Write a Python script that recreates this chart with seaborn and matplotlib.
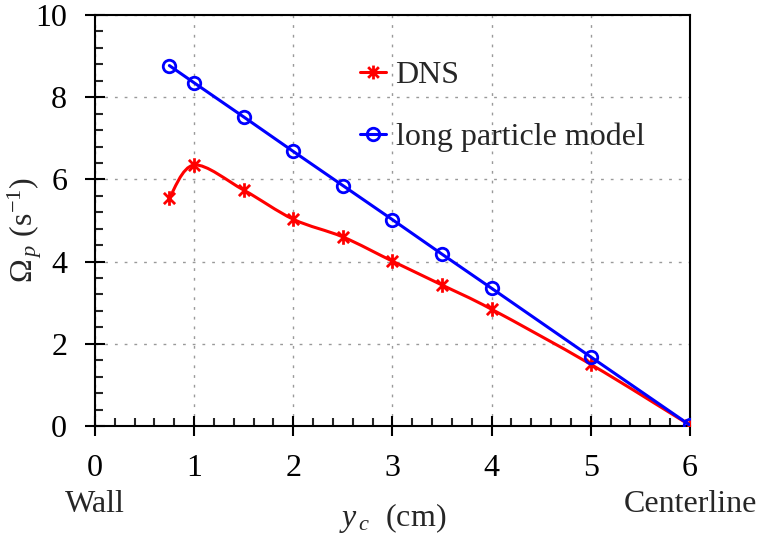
"""
Particle angular velocity vs. distance from wall: DNS vs long particle model.
"""
import numpy as np
import pandas as pd
import matplotlib
matplotlib.use('Agg')
import matplotlib.pyplot as plt
from matplotlib.path import Path
from matplotlib.patches import PathPatch
from matplotlib.lines import Line2D
from matplotlib.ticker import MultipleLocator
import seaborn as sns

# values
dns_x = [0.75, 1.0, 1.5, 2.0, 2.5, 3.0, 3.5, 4.0, 5.0, 6.0]
dns_y = [5.55, 6.35, 5.74, 5.03, 4.60, 4.01, 3.43, 2.84, 1.50, 0.02]
model_x = [0.75, 1.0, 1.5, 2.0, 2.5, 3.0, 3.5, 4.0, 5.0, 6.0]
model_y = [8.77, 8.35, 7.52, 6.68, 5.85, 5.02, 4.18, 3.35, 1.68, 0.02]
x_ticks = [0, 1, 2, 3, 4, 5, 6]
y_ticks = [0, 2, 4, 6, 8, 10]

FS = 23

sns.set_theme(style='ticks')
plt.rcParams['font.family'] = ['Liberation Serif', 'DejaVu Serif']
plt.rcParams['mathtext.fontset'] = 'custom'
plt.rcParams['mathtext.rm'] = 'Liberation Serif'
plt.rcParams['mathtext.it'] = 'Liberation Serif:italic'

# Excel-style asterisk: an X with a vertical bar
star = Path([(-1, -1), (1, 1), (-1, 1), (1, -1), (0, -1.3), (0, 1.3)],
            [Path.MOVETO, Path.LINETO, Path.MOVETO, Path.LINETO, Path.MOVETO, Path.LINETO])


def smooth_path(xs, ys):
    # Bezier curve through points (like a spreadsheet "smoothed line")
    p = np.column_stack([xs, ys]).astype(float)
    n = len(p)
    verts = [p[0]]
    codes = [Path.MOVETO]
    for i in range(n - 1):
        prev = p[i - 1] if i > 0 else p[i]
        nxt = p[i + 2] if i + 2 < n else p[i + 1]
        c1 = p[i] + (p[i + 1] - prev) / 6
        c2 = p[i + 1] - (nxt - p[i]) / 6
        verts += [c1, c2, p[i + 1]]
        codes += [Path.CURVE4] * 3
    return Path(verts, codes)


dns = pd.DataFrame({'x': dns_x, 'y': dns_y})
model = pd.DataFrame({'x': model_x, 'y': model_y})

fig = plt.figure(figsize=(7.63, 5.36), dpi=100)
ax = fig.add_axes([0.1245, 0.2052, 0.7798, 0.7668])

ax.add_patch(PathPatch(smooth_path(dns_x, dns_y), fill=False, edgecolor='red',
                       lw=2.2, zorder=3))
sns.scatterplot(data=dns, x='x', y='y', ax=ax, marker=star, s=110, color='red',
                linewidth=2.0, edgecolor='red', zorder=4, legend=False)
sns.lineplot(data=model, x='x', y='y', ax=ax, color='blue', lw=2.2, marker='o',
             markersize=9, markerfacecolor='none', markeredgecolor='blue',
             markeredgewidth=2.0, zorder=5, legend=False)

ax.set_xlim(0, 6)
ax.set_ylim(0, 10)
ax.set_xticks(x_ticks)
ax.set_yticks(y_ticks)
ax.xaxis.set_minor_locator(MultipleLocator(0.2))
ax.yaxis.set_minor_locator(MultipleLocator(0.4))
ax.tick_params(which='major', direction='inout', length=14, width=1.5,
               labelsize=FS, colors='black')
ax.tick_params(which='minor', direction='in', length=6, width=1.5)
ax.tick_params(axis='y', which='major', pad=13)
ax.tick_params(axis='x', which='major', pad=13)
for s in ax.spines.values():
    s.set_linewidth(1.5)
    s.set_color('black')
ax.grid(True, which='major', color='#999999', lw=1.0, ls=(0, (2, 5)))

ax.set_xlabel(r'$y_{\,c}$  (cm)', fontsize=FS)
ax.xaxis.label.set_va('center')
ax.xaxis.set_label_coords(0.5, -0.225)
ax.set_ylabel(r'$\Omega_{\,p}$ (s$^{\mathrm{-1}}$)', fontsize=FS)
ax.yaxis.label.set_va('center')
ax.yaxis.set_label_coords(-0.118, 0.477)

for xv, txt in [(0, 'Wall'), (6, 'Centerline')]:
    ax.annotate(txt, xy=(xv, 0), xycoords=('data', 'axes fraction'),
                xytext=(0, -78), textcoords='offset pixels',
                ha='center', va='center', fontsize=FS)

handles = [
    Line2D([], [], color='red', lw=2.2, marker=star, markersize=10,
           markeredgewidth=2.0),
    Line2D([], [], color='blue', lw=2.2, marker='o', markersize=9,
           markerfacecolor='none', markeredgewidth=2.0),
]
ax.legend(handles, ['DNS', 'long particle model'], loc='upper left',
          bbox_to_anchor=(0.445, 0.888), frameon=False, fontsize=FS,
          handlelength=0.82, handletextpad=0.3, labelspacing=1.0,
          borderpad=0, borderaxespad=0)

fig.savefig('out.png', dpi=100)
plt.close(fig)
